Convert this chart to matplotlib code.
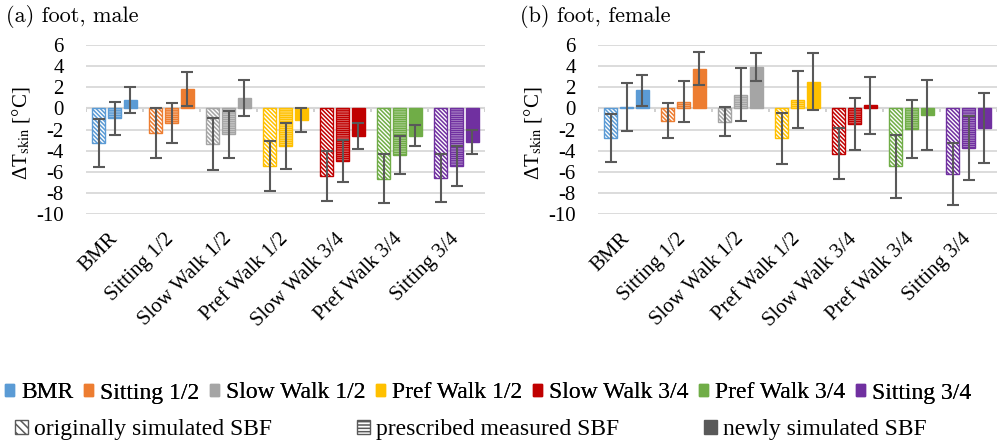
import numpy as np
import matplotlib
matplotlib.use("Agg")
from matplotlib import pyplot as plt
from matplotlib.patches import Patch

plt.rcParams['font.family'] = ['Liberation Serif', 'DejaVu Serif']
plt.rcParams['mathtext.fontset'] = 'stix'
plt.rcParams['axes.unicode_minus'] = False
plt.rcParams['hatch.linewidth'] = 1.1

cases = ["BMR", "Sitting 1/2", "Slow Walk 1/2", "Pref Walk 1/2",
         "Slow Walk 3/4", "Pref Walk 3/4", "Sitting 3/4"]
colors = ["#5B9BD5", "#ED7D31", "#A5A5A5", "#FFC000", "#C00000", "#70AD47", "#7030A0"]

# foot, male
m_orig = [-3.3, -2.3, -3.35, -5.45, -6.4, -6.65, -6.6]
m_orig_err = [2.25, 2.35, 2.45, 2.4, 2.4, 2.35, 2.3]
m_presc = [-0.95, -1.4, -2.45, -3.55, -4.95, -4.45, -5.45]
m_presc_err = [1.55, 1.9, 2.2, 2.15, 2.0, 1.8, 1.9]
m_new = [0.8, 1.8, 0.95, -1.1, -2.6, -2.6, -3.15]
m_new_err = [1.2, 1.6, 1.7, 1.1, 1.2, 1.0, 1.15]

# foot, female
f_orig = [-2.8, -1.15, -1.25, -2.85, -4.3, -5.5, -6.2]
f_orig_err = [2.3, 1.7, 1.4, 2.4, 2.4, 3.0, 2.9]
f_presc = [0.15, 0.65, 1.3, 0.8, -1.5, -1.95, -3.75]
f_presc_err = [2.25, 1.95, 2.5, 2.7, 2.45, 2.7, 3.0]
f_new = [1.7, 3.75, 3.9, 2.5, 0.3, -0.6, -1.85]
f_new_err = [1.5, 1.55, 1.35, 2.7, 2.7, 3.3, 3.3]

errcol = "#595959"
hatch_orig = "\\" * 8
hatch_presc = "-" * 9
x = np.arange(len(cases))
w = 0.23
off = 0.28

fig = plt.figure(figsize=(10, 4.42), dpi=100)
ax1 = fig.add_axes([0.086, 0.5158, 0.399, 0.3824])
ax2 = fig.add_axes([0.598, 0.5158, 0.399, 0.3824])


def draw(ax, orig, orig_err, presc, presc_err, new, new_err):
    ax.bar(x - off, orig, w, color="white", edgecolor=colors, hatch=hatch_orig,
           linewidth=1.0, zorder=2)
    ax.bar(x, presc, w, color="white", edgecolor=colors, hatch=hatch_presc,
           linewidth=1.0, zorder=2)
    ax.bar(x + off, new, w, color=colors, edgecolor=colors, linewidth=1.0, zorder=2)
    for pos, vals, errs in [(x - off, orig, orig_err), (x, presc, presc_err), (x + off, new, new_err)]:
        ax.errorbar(pos, vals, yerr=errs, fmt="none", ecolor=errcol, elinewidth=1.5,
                    capsize=4, capthick=1.5, zorder=3)
    ax.set_ylim(-10, 6)
    ax.set_xlim(-0.5, len(cases) - 0.5)
    ax.set_yticks(np.arange(-10, 7, 2))
    ax.yaxis.grid(True, color="#D9D9D9", linewidth=1.3, zorder=0)
    ax.axhline(0, color="#C8C8C8", linewidth=1.5, zorder=1)
    ax.vlines(np.arange(len(cases) + 1) - 0.5, -0.3, 0, color="#C8C8C8", linewidth=1.2, zorder=1)
    for s in ax.spines.values():
        s.set_visible(False)
    ax.tick_params(length=0, labelsize=15)
    ax.tick_params(axis="y", pad=16)
    ax.set_xticks(x)
    ax.set_xticklabels(cases, rotation=45, ha="right", va="center", rotation_mode="anchor")
    ax.tick_params(axis="x", pad=16)
    ax.set_ylabel(r"ΔT$_{\mathrm{skin}}$ [°C]", fontsize=15)
    ax.yaxis.set_label_coords(-0.135, 0.48)


draw(ax1, m_orig, m_orig_err, m_presc, m_presc_err, m_new, m_new_err)
draw(ax2, f_orig, f_orig_err, f_presc, f_presc_err, f_new, f_new_err)

fig.text(0.006, 1 - 22 / 442, "(a) foot, male", family="cmr10", fontsize=16, va="baseline")
fig.text(0.520, 1 - 22 / 442, "(b) foot, female", family="cmr10", fontsize=16, va="baseline")

h1 = [Patch(facecolor=c, edgecolor=c) for c in colors]
leg1 = fig.legend(h1, cases, loc="center left", bbox_to_anchor=(-0.002, 1 - 393 / 442),
                  ncol=7, frameon=False, fontsize=17, handlelength=0.38, handleheight=0.38,
                  handletextpad=0.3, columnspacing=0.45, borderpad=0, borderaxespad=0.3)
fig.add_artist(leg1)

h2 = [Patch(facecolor="white", edgecolor=errcol, hatch="\\" * 4),
      Patch(facecolor="white", edgecolor=errcol, hatch="-" * 5),
      Patch(facecolor=errcol, edgecolor=errcol)]
labels2 = ["originally simulated SBF", "prescribed measured SBF", "newly simulated SBF"]
fig.legend(h2, labels2, loc="center left", bbox_to_anchor=(0.008, 1 - 430 / 442),
           ncol=3, frameon=False, fontsize=17, handlelength=0.55, handleheight=0.55,
           handletextpad=0.25, columnspacing=3.6, borderpad=0, borderaxespad=0.3)

fig.savefig("out.png", dpi=100)
